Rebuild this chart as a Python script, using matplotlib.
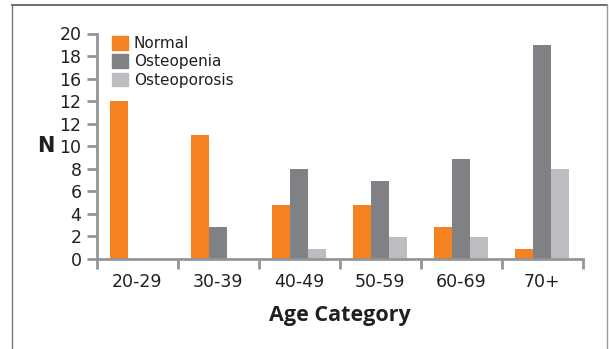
import numpy as np
import matplotlib
matplotlib.use("Agg")
import matplotlib.pyplot as plt
from matplotlib.lines import Line2D
from matplotlib.patches import Patch

categories = ["20-29", "30-39", "40-49", "50-59", "60-69", "70+"]
normal = [14, 11, 4.8, 4.8, 2.8, 0.9]
osteopenia = [0, 2.8, 8, 6.9, 8.9, 19]
osteoporosis = [0, 0, 0.9, 1.95, 1.95, 8]
ytick_vals = [0, 2, 4, 6, 8, 10, 12, 14, 16, 18, 20]
ytick_labels = ["0", "2", "4", "6", "8", "10", "12", "12", "16", "18", "20"]

c_norm = "#f58220"
c_pen = "#808184"
c_por = "#bcbdc1"
c_axis = "#939598"
c_text = "#231f20"

W, H = 609, 349
fig = plt.figure(figsize=(W / 100, H / 100), dpi=100)
ax = fig.add_axes([96.7 / W, 1 - 259 / H, (582.7 - 96.7) / W, (259 - 33.5) / H])

x = np.arange(len(categories)) + 0.5
bw = 0.222
ax.bar(x - bw, normal, bw, color=c_norm, label="Normal")
ax.bar(x, osteopenia, bw, color=c_pen, label="Osteopenia")
ax.bar(x + bw, osteoporosis, bw, color=c_por, label="Osteoporosis")

ax.set_xlim(0, len(categories))
ax.set_ylim(0, 20)
for s in ["top", "right"]:
    ax.spines[s].set_visible(False)
for s in ["left", "bottom"]:
    ax.spines[s].set_color(c_axis)
    ax.spines[s].set_linewidth(2)
ax.spines["left"].set_bounds(0, 20)

ax.set_yticks(ytick_vals)
ax.set_yticklabels(ytick_labels)
ax.tick_params(axis="y", length=7, width=2, color=c_axis, pad=4,
               labelsize=12.5, labelcolor=c_text)

ax.set_xticks(np.arange(len(categories) + 1))
ax.set_xticklabels([])
ax.tick_params(axis="x", which="major", length=7.5, width=2, color=c_axis)
ax.set_xticks(x, minor=True)
ax.set_xticklabels(categories, minor=True)
ax.tick_params(axis="x", which="minor", length=0, pad=10,
               labelsize=12.5, labelcolor=c_text)

ax.set_xlabel("Age Category", fontsize=15.5, fontweight="bold",
              color=c_text, labelpad=10, family="Open Sans")
ax.set_ylabel("N", fontsize=15, fontweight="heavy", color=c_text,
              rotation=0, va="center")
ax.yaxis.set_label_coords(-0.105, 0.5)

handles = [Patch(color=c_norm), Patch(color=c_pen), Patch(color=c_por)]
ax.legend(handles, ["Normal", "Osteopenia", "Osteoporosis"],
          loc="upper left", bbox_to_anchor=(0.01, 1.035), frameon=False,
          fontsize=11, handlelength=1.0, handleheight=1.0,
          handletextpad=0.4, labelspacing=0.2, borderpad=0.2,
          labelcolor=c_text)

# outer frame
fig.add_artist(Line2D([12.3 / W, 12.3 / W], [0, 1 - 5 / H], transform=fig.transFigure,
                      color="#777777", lw=1))
fig.add_artist(Line2D([12.3 / W, 607 / W], [1 - 5 / H, 1 - 5 / H], transform=fig.transFigure,
                      color="#555555", lw=1.2))
fig.add_artist(Line2D([607 / W, 607 / W], [0, 1 - 5 / H], transform=fig.transFigure,
                      color="#999999", lw=1))

fig.savefig("out.png", dpi=100)
